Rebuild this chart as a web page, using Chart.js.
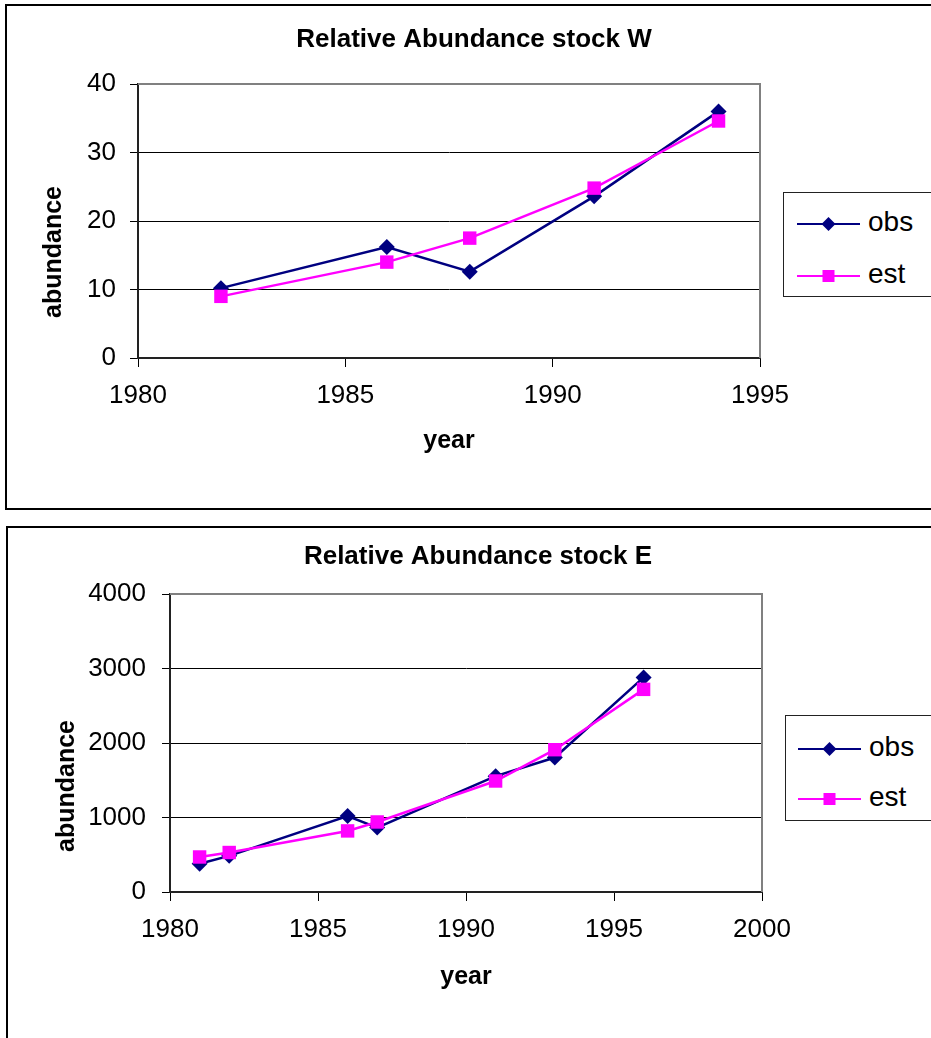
<!DOCTYPE html>
<html>
<head>
<meta charset="utf-8">
<title>Relative Abundance</title>
<script src="https://cdn.jsdelivr.net/npm/chart.js@4.4.1/dist/chart.umd.min.js"></script>
<style>
  html, body { margin: 0; padding: 0; background: #fff; width: 931px; height: 1038px; overflow: hidden; }
  body { position: relative; font-family: "Liberation Sans", Arial, sans-serif; }
  .frame { position: absolute; border: 2px solid #000; box-sizing: border-box; }
  canvas { position: absolute; left: 0; }
  .legend { position: absolute; border: 1px solid #222; background: #fff; width: 220px; box-sizing: border-box; }
  .legend svg { position: absolute; }
  .legend span { position: absolute; font-size: 28px; line-height: 32px; color: #000; }
</style>
</head>
<body>
<div class="frame" style="left:5px;top:4px;width:960px;height:506px"></div>
<div class="frame" style="left:6px;top:526px;width:960px;height:540px"></div>
<canvas id="chart-w" width="931" height="505" style="top:0;width:931px;height:505px"></canvas>
<canvas id="chart-e" width="931" height="511" style="top:527px;width:931px;height:511px"></canvas>
<div class="legend" id="legend-w" style="left:783px;top:192px;height:105px"></div>
<div class="legend" id="legend-e" style="left:785px;top:715px;height:106px"></div>

<script>
/* ---- data ---------------------------------------------------------------- */
var SERIES_NAMES = ["obs", "est"];

var W_YEARS = [1982, 1986, 1988, 1991, 1994];
var W_OBS   = [10.2, 16.2, 12.6, 23.6, 36.0];
var W_EST   = [9.0, 14.0, 17.5, 24.8, 34.6];
var W_X_TICKS = [1980, 1985, 1990, 1995];
var W_Y_TICKS = [0, 10, 20, 30, 40];

var E_YEARS = [1981, 1982, 1986, 1987, 1991, 1993, 1996];
var E_OBS   = [380, 485, 1020, 865, 1555, 1805, 2880];
var E_EST   = [470, 530, 820, 940, 1490, 1910, 2720];
var E_X_TICKS = [1980, 1985, 1990, 1995, 2000];
var E_Y_TICKS = [0, 1000, 2000, 3000, 4000];

/* ---- style --------------------------------------------------------------- */
var NAVY = "#000080", MAGENTA = "#ff00ff", AXIS = "#222", FRAME_GREY = "#808080";
var FONT = "'Liberation Sans', Arial, sans-serif";

Chart.defaults.font.family = FONT;
Chart.defaults.color = "#000";

/* grey plot-area border on top and right, like Excel */
var plotFrame = {
  id: "plotFrame",
  beforeDatasetsDraw: function (chart) {
    var a = chart.chartArea, ctx = chart.ctx;
    ctx.save();
    ctx.strokeStyle = FRAME_GREY;
    ctx.lineWidth = 2;
    ctx.beginPath();
    ctx.moveTo(a.left, a.top); ctx.lineTo(a.right, a.top); ctx.lineTo(a.right, a.bottom);
    ctx.stroke();
    ctx.restore();
  }
};

/* chart title + rotated y title; both sit off the plot centre in the original */
var freeText = {
  id: "freeText",
  afterDraw: function (chart, _a, o) {
    var ctx = chart.ctx;
    ctx.save();
    ctx.fillStyle = "#000";
    ctx.textAlign = "center";
    ctx.textBaseline = "middle";
    ctx.font = "bold 26px " + FONT;
    ctx.fillText(o.title, o.titleX, o.titleY);
    ctx.translate(o.yX, o.yY);
    ctx.rotate(-Math.PI / 2);
    ctx.font = "bold 25px " + FONT;
    ctx.fillText(o.yText, 0, 0);
    ctx.restore();
  }
};

function points(xs, ys) {
  return xs.map(function (x, i) { return { x: x, y: ys[i] }; });
}

function fixedTicks(list) {
  return function (scale) { scale.ticks = list.map(function (v) { return { value: v }; }); };
}

function buildChart(id, c) {
  return new Chart(document.getElementById(id), {
    type: "line",
    data: {
      datasets: [
        { label: SERIES_NAMES[0], data: points(c.years, c.obs), order: 1,
          borderColor: NAVY, backgroundColor: NAVY, borderWidth: 2.5,
          pointStyle: "rectRot", pointRadius: 8, pointBorderWidth: 0, tension: 0 },
        { label: SERIES_NAMES[1], data: points(c.years, c.est), order: 0,
          borderColor: MAGENTA, backgroundColor: MAGENTA, borderWidth: 2.5,
          pointStyle: "rect", pointRadius: 9.5, pointBorderWidth: 0, tension: 0 }
      ]
    },
    options: {
      responsive: false, animation: false, events: [],
      layout: { padding: { left: 0, right: c.padRight, top: c.padTop, bottom: 0 } },
      plugins: {
        legend: { display: false },
        tooltip: { enabled: false },
        title: { display: false },
        freeText: c.text
      },
      scales: {
        x: {
          type: "linear", min: c.xTicks[0], max: c.xTicks[c.xTicks.length - 1],
          afterBuildTicks: fixedTicks(c.xTicks),
          afterFit: function (s) { s.height = c.xHeight; },
          ticks: { font: { size: 26 }, color: "#000", padding: 13, maxRotation: 0, autoSkip: false,
                   callback: function (v) { return String(v); } },
          grid: { drawOnChartArea: false, drawTicks: true, tickLength: 9, color: "#000" },
          border: { color: AXIS, width: 2 },
          title: { display: true, text: "year", color: "#000",
                   font: { size: 25, weight: "bold" }, padding: { top: 0, bottom: c.yearPad } }
        },
        y: {
          min: c.yTicks[0], max: c.yTicks[c.yTicks.length - 1],
          afterBuildTicks: fixedTicks(c.yTicks),
          afterFit: function (s) { s.width = c.yWidth; },
          ticks: { font: { size: 26 }, color: "#000", padding: c.yTickPad,
                   callback: function (v) { return String(v); } },
          grid: { color: "#000", lineWidth: 1, tickLength: 8 },
          border: { color: AXIS, width: 2 }
        }
      }
    },
    plugins: [plotFrame, freeText]
  });
}

function buildLegend(id, rows) {
  var box = document.getElementById(id);
  rows.forEach(function (r, i) {
    var color = i === 0 ? NAVY : MAGENTA;
    var mark = i === 0
      ? '<polygon points="24.5,10 31.5,3 38.5,10 31.5,17" fill="' + color + '"/>'
      : '<rect x="25.5" y="4" width="12" height="12" fill="' + color + '"/>';
    box.insertAdjacentHTML("beforeend",
      '<svg width="64" height="20" style="left:' + r.lx + 'px;top:' + (r.ly - 10) + 'px">' +
      '<line x1="0" y1="10" x2="63" y2="10" stroke="' + color + '" stroke-width="2"/>' + mark + '</svg>' +
      '<span style="left:' + r.tx + 'px;top:' + (r.ly - 18) + 'px">' + SERIES_NAMES[i] + '</span>');
  });
}

buildChart("chart-w", {
  years: W_YEARS, obs: W_OBS, est: W_EST, xTicks: W_X_TICKS, yTicks: W_Y_TICKS,
  padRight: 171, padTop: 84, xHeight: 147, yearPad: 49,
  yWidth: 138, yTickPad: 14,
  text: { title: "Relative Abundance stock W", titleX: 474, titleY: 40,
          yText: "abundance", yX: 54, yY: 252 }
});

buildChart("chart-e", {
  years: E_YEARS, obs: E_OBS, est: E_EST, xTicks: E_X_TICKS, yTicks: E_Y_TICKS,
  padRight: 169, padTop: 67, xHeight: 146, yearPad: 46,
  yWidth: 170, yTickPad: 16,
  text: { title: "Relative Abundance stock E", titleX: 478, titleY: 30,
          yText: "abundance", yX: 67, yY: 259 }
});

buildLegend("legend-w", [{ lx: 13, ly: 31, tx: 84 }, { lx: 13, ly: 83, tx: 84 }]);
buildLegend("legend-e", [{ lx: 12, ly: 33, tx: 83 }, { lx: 12, ly: 83, tx: 83 }]);
</script>
</body>
</html>
